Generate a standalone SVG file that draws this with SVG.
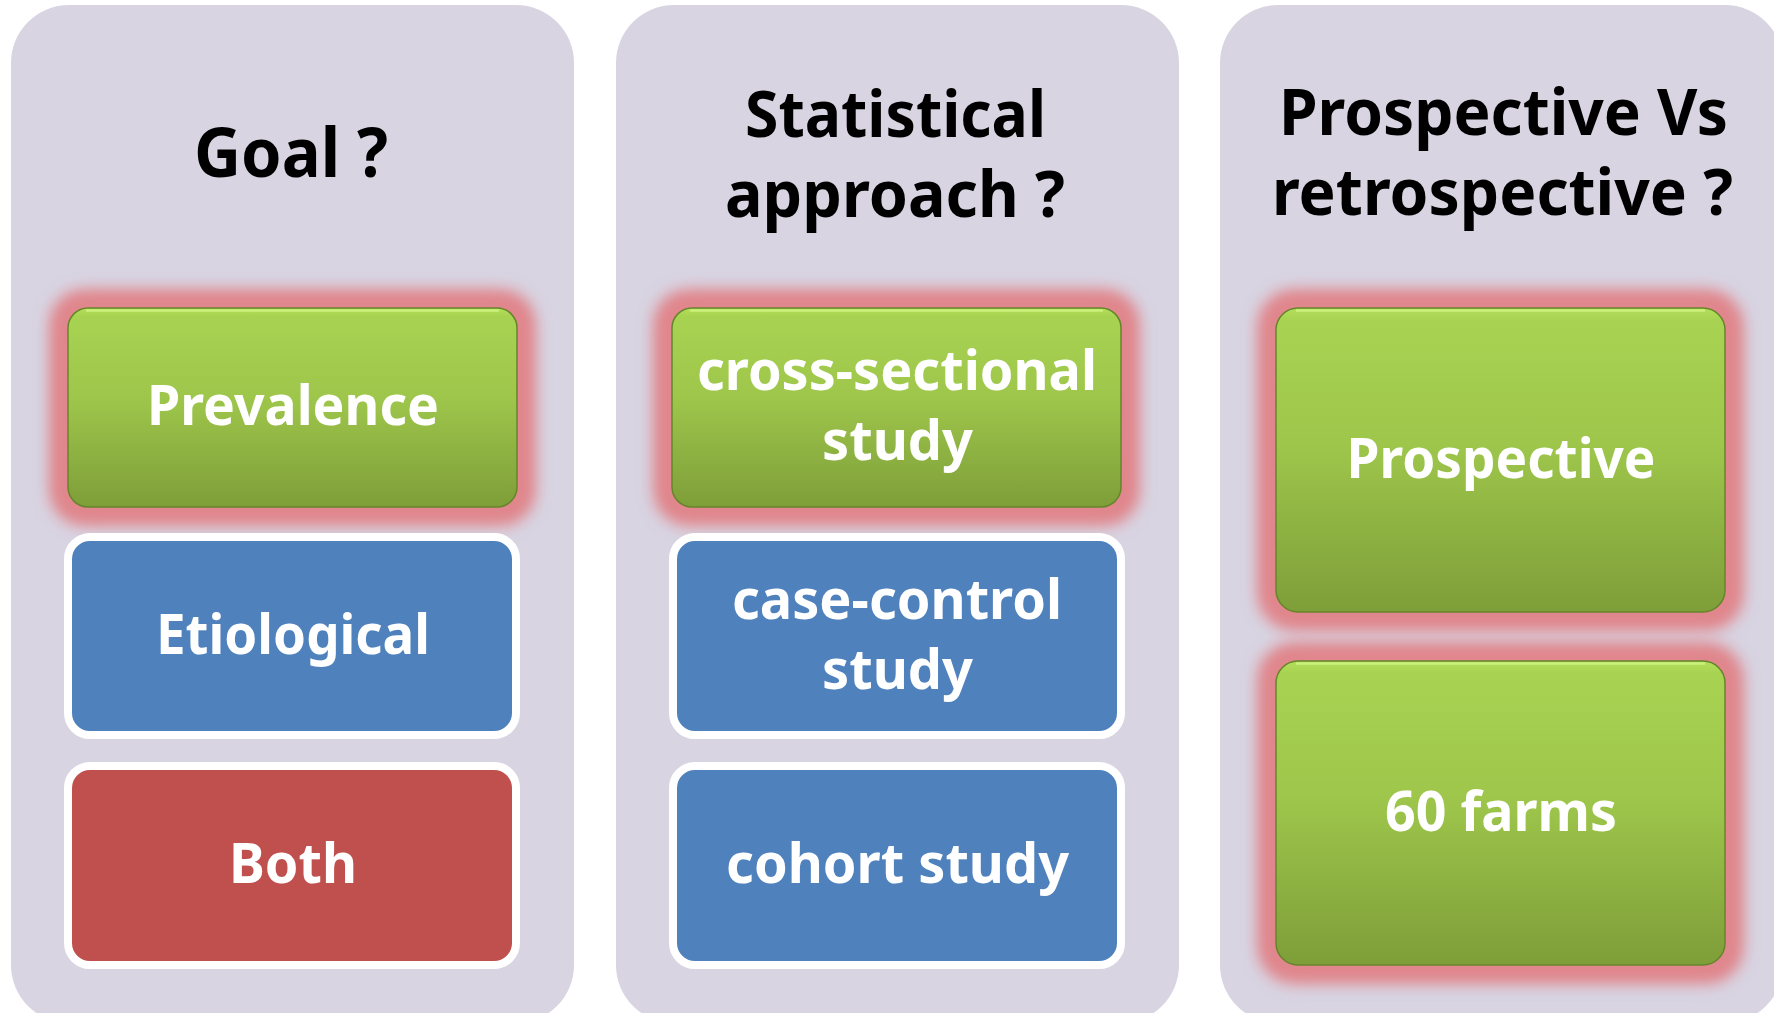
<svg xmlns="http://www.w3.org/2000/svg" width="1774" height="1013" viewBox="0 0 1774 1013">
<style>
.panel{fill:#d8d4e2}
.head{font-family:"Noto Sans","Open Sans","Liberation Sans",sans-serif;font-weight:bold;fill:#000;text-anchor:middle}
.h1{font-size:68px}
.h2{font-size:64px}
.lbl{font-family:"Noto Sans","Open Sans","Liberation Sans",sans-serif;font-weight:bold;font-size:55px;fill:#fff;text-anchor:middle}
.glow{fill:#e0868c;filter:url(#blur)}
.green{fill:url(#gGreen);stroke:#66852a;stroke-width:1.5}
.hl{fill:none;stroke:#cdf27e;stroke-width:2.5;opacity:0.9}
.blue{fill:#4f81bd;stroke:#fff;stroke-width:8}
.red{fill:#c0504d;stroke:#fff;stroke-width:8}
</style>
<defs>
<linearGradient id="gGreen" x1="0" y1="0" x2="0" y2="1">
<stop offset="0" stop-color="#b4df5c"/>
<stop offset="0.04" stop-color="#a8d352"/>
<stop offset="0.45" stop-color="#9ec64b"/>
<stop offset="1" stop-color="#7e9e39"/>
</linearGradient>
<filter id="blur" x="-20%" y="-30%" width="140%" height="160%">
<feGaussianBlur stdDeviation="8"/>
</filter>
</defs>
<rect width="1774" height="1013" fill="#fff"/>

<g id="panel-goal">
<rect class="panel" x="11" y="5" width="563" height="1018" rx="58"/>
<text class="head h1" x="291" y="177" textLength="194" lengthAdjust="spacingAndGlyphs">Goal ?</text>
</g>
<g id="panel-statistical">
<rect class="panel" x="616" y="5" width="563" height="1018" rx="58"/>
<text class="head h2" x="895.5" y="137" textLength="301" lengthAdjust="spacingAndGlyphs">Statistical</text>
<text class="head h2" x="895" y="217" textLength="340" lengthAdjust="spacingAndGlyphs">approach ?</text>
</g>
<g id="panel-prospective">
<rect class="panel" x="1220" y="5" width="563" height="1018" rx="58"/>
<text class="head h2" x="1503.5" y="135" textLength="449" lengthAdjust="spacingAndGlyphs">Prospective Vs</text>
<text class="head h2" x="1502.5" y="215" textLength="461" lengthAdjust="spacingAndGlyphs">retrospective ?</text>
</g>

<g id="connectors"></g>

<g id="node-prevalence">
<rect class="glow" x="50" y="290" width="485" height="235" rx="34"/>
<rect class="glow" x="58" y="298" width="469" height="219" rx="28"/>
<rect class="green" x="68" y="308" width="449" height="199" rx="20"/>
<path class="hl" d="M86 310.5 H499"/>
<text class="lbl" x="293" y="425" textLength="292" lengthAdjust="spacingAndGlyphs">Prevalence</text>
</g>
<g id="node-etiological">
<rect class="blue" x="68" y="537" width="448" height="198" rx="22"/>
<text class="lbl" x="293" y="654" textLength="274" lengthAdjust="spacingAndGlyphs">Etiological</text>
</g>
<g id="node-both">
<rect class="red" x="68" y="766" width="448" height="199" rx="22"/>
<text class="lbl" x="293" y="883" textLength="128" lengthAdjust="spacingAndGlyphs">Both</text>
</g>

<g id="node-cross-sectional">
<rect class="glow" x="654" y="290" width="485" height="235" rx="34"/>
<rect class="glow" x="662" y="298" width="469" height="219" rx="28"/>
<rect class="green" x="672" y="308" width="449" height="199" rx="20"/>
<path class="hl" d="M690 310.5 H1103"/>
<text class="lbl" x="897" y="390" textLength="400" lengthAdjust="spacingAndGlyphs">cross-sectional</text>
<text class="lbl" x="897.5" y="460" textLength="151" lengthAdjust="spacingAndGlyphs">study</text>
</g>
<g id="node-case-control">
<rect class="blue" x="673" y="537" width="448" height="198" rx="22"/>
<text class="lbl" x="897" y="619" textLength="330" lengthAdjust="spacingAndGlyphs">case-control</text>
<text class="lbl" x="897.5" y="689" textLength="151" lengthAdjust="spacingAndGlyphs">study</text>
</g>
<g id="node-cohort">
<rect class="blue" x="673" y="766" width="448" height="199" rx="22"/>
<text class="lbl" x="897.5" y="883" textLength="343" lengthAdjust="spacingAndGlyphs">cohort study</text>
</g>

<g id="node-prospective">
<rect class="glow" x="1258" y="290" width="485" height="340" rx="36"/>
<rect class="glow" x="1266" y="298" width="469" height="324" rx="30"/>
<rect class="green" x="1276" y="308" width="449" height="304" rx="22"/>
<path class="hl" d="M1296 310.5 H1705"/>
<text class="lbl" x="1501" y="478" textLength="309" lengthAdjust="spacingAndGlyphs">Prospective</text>
</g>
<g id="node-60-farms">
<rect class="glow" x="1258" y="643" width="485" height="340" rx="36"/>
<rect class="glow" x="1266" y="651" width="469" height="324" rx="30"/>
<rect class="green" x="1276" y="661" width="449" height="304" rx="22"/>
<path class="hl" d="M1296 663.5 H1705"/>
<text class="lbl" x="1501" y="831" textLength="232" lengthAdjust="spacingAndGlyphs">60 farms</text>
</g>
</svg>
